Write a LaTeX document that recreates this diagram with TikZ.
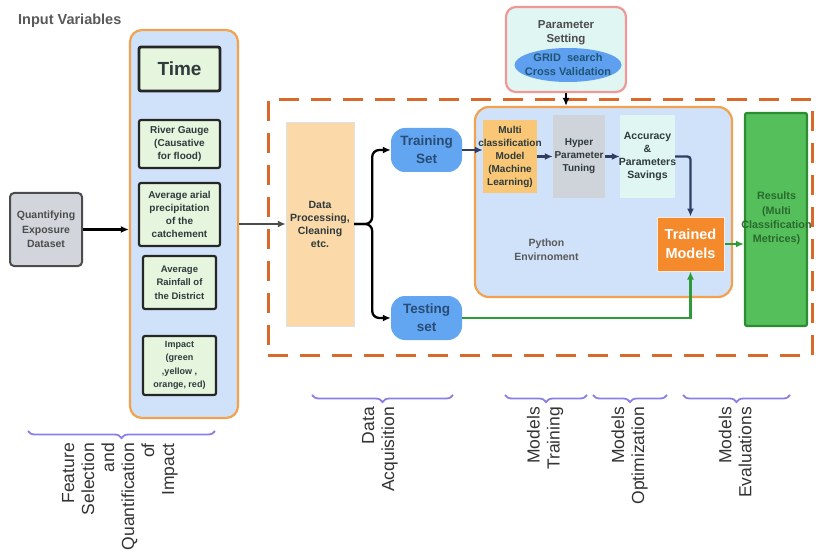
\documentclass[tikz,border=0pt]{standalone}
\usepackage{fontspec}
\setmainfont{Liberation Sans}
\usetikzlibrary{shapes.geometric, arrows.meta, positioning, decorations.pathreplacing}

\definecolor{colfill}{HTML}{D0E2FA}
\definecolor{colline}{HTML}{F2A24E}
\definecolor{varfill}{HTML}{E6F5DD}
\definecolor{boxtext}{HTML}{2E3A3C}
\definecolor{framecol}{HTML}{D8692A}
\definecolor{procfill}{HTML}{FCD9A9}
\definecolor{setfill}{HTML}{62A5F1}
\definecolor{settext}{HTML}{294C77}
\definecolor{modelfill}{HTML}{F9C775}
\definecolor{tunefill}{HTML}{CFD3DA}
\definecolor{savefill}{HTML}{E0F6F3}
\definecolor{trainfill}{HTML}{F58A2C}
\definecolor{resfill}{HTML}{55BF5C}
\definecolor{resline}{HTML}{2B8C30}
\definecolor{restext}{HTML}{2A6A2D}
\definecolor{paramline}{HTML}{F09898}
\definecolor{gridfill}{HTML}{5E9FF0}
\definecolor{gridtext}{HTML}{1F5573}
\definecolor{flowline}{HTML}{2F3E62}
\definecolor{testline}{HTML}{2E9B38}
\definecolor{bracecol}{HTML}{8A7FE6}
\definecolor{datafill}{HTML}{D2D6DC}

\tikzset{
	boxfont/.style={font=\bfseries\fontsize{10}{13}\selectfont},
	varbox/.style={draw=black!85, line width=2.2pt, fill=varfill, rounded corners=2pt, align=center, text=boxtext, inner sep=0pt, boxfont},
	setbox/.style={fill=setfill, rounded corners=14pt, minimum width=71pt, minimum height=44pt, inner sep=0pt, align=center, text=settext, font=\bfseries\fontsize{13.5}{18}\selectfont},
	plainbox/.style={inner sep=0pt, minimum width=54pt, minimum height=73pt},
	boxtxt/.style={align=center, inner sep=0pt, text=boxtext, boxfont},
	flow/.style={line width=2.3pt, -{Latex[length=8pt,width=7pt]}},
	bracepath/.style={draw=bracecol, line width=1.8pt, decorate, decoration={brace, mirror, amplitude=7pt}},
	steplabel/.style={rotate=90, anchor=east, align=right, inner sep=0pt, text=black!80, font=\fontsize{17.5}{20}\selectfont}
}

\begin{document}
\begin{tikzpicture}[x=1pt, y=-1pt]
	\useasboundingbox (0,0) rectangle (816,556);

	\node[anchor=west, inner sep=0pt, text=black!65, font=\bfseries\fontsize{14.5}{17}\selectfont] (title) at (18,21) {Input Variables};

	\node[draw=framecol, line width=3pt, dash pattern=on 20pt off 12pt, minimum width=544pt, minimum height=255pt] (stage) at (540,227.5) {};

	\node[draw=colline, line width=2.2pt, fill=colfill, rounded corners=12pt, minimum width=108pt, minimum height=388pt] (inputs) at (184,224) {};
	\node[varbox, line width=2.8pt, minimum width=81pt, minimum height=44pt, font=\bfseries\fontsize{19}{22}\selectfont] (time) at (179.5,69) {Time};
	\node[varbox, minimum width=81pt, minimum height=48pt] (gauge) at (179.5,144) {River Gauge\\(Causative\\for flood)};
	\node[varbox, minimum width=81pt, minimum height=63pt] (precip) at (179.5,214.5) {Average arial\\precipitation\\of the\\catchement};
	\node[varbox, minimum width=73pt, minimum height=53pt, font=\bfseries\fontsize{9.5}{13.5}\selectfont] (rain) at (179.5,282.5) {Average\\Rainfall of\\the District};
	\node[varbox, minimum width=73pt, minimum height=59pt, font=\bfseries\fontsize{9}{13.3}\selectfont] (impact) at (179.5,365.5) {Impact\\(green\\,yellow ,\\orange, red)};

	\node[draw=black!70, line width=2pt, fill=datafill, rounded corners=4pt, minimum width=72pt, minimum height=73pt, inner sep=0pt, align=center, text=black!70, font=\bfseries\fontsize{10.5}{14.5}\selectfont] (dataset) at (46,229.5) {Quantifying\\Exposure\\Dataset};

	\node[draw=black!12, fill=procfill, minimum width=68pt, minimum height=204pt, inner sep=0pt, align=center, text=boxtext, font=\bfseries\fontsize{10.5}{13}\selectfont] (proc) at (320,224) {Data\\Processing,\\Cleaning\\etc.};

	\node[setbox] (train) at (426.5,150) {Training\\Set};
	\node[setbox] (test) at (426.5,318) {Testing\\set};

	\node[draw=colline, line width=2.2pt, fill=colfill, rounded corners=14pt, minimum width=257pt, minimum height=190pt] (env) at (603.5,202) {};
	\node[boxtxt, text=black!65, font=\bfseries\fontsize{10.5}{14}\selectfont] (envtext) at (546.5,250) {Python\\Envirnoment};

	\node[plainbox, fill=modelfill] (multi) at (510,156.5) {};
	\node[boxtxt] (multitext) at (multi) {Multi\\classification\\Model\\(Machine\\Learning)};
	\node[plainbox, fill=tunefill, minimum width=52pt, minimum height=83pt] (hyper) at (579,156.5) {};
	\node[boxtxt] (hypertext) at (hyper) {Hyper\\Parameter\\Tuning};
	\node[plainbox, fill=savefill, minimum width=55pt, minimum height=83pt] (saving) at (647.5,156.5) {};
	\node[boxtxt, font=\bfseries\fontsize{10.5}{13}\selectfont] (savingtext) at (saving) {Accuracy\\\&\\Parameters\\Savings};

	\node[draw=white!85!trainfill, line width=1pt, fill=trainfill, minimum width=67pt, minimum height=54pt, inner sep=0pt, align=center, text=white, font=\bfseries\fontsize{14.5}{19.5}\selectfont] (trained) at (690.5,244) {Trained\\Models};

	\node[draw=resline, line width=2.2pt, fill=resfill, rounded corners=2pt, minimum width=62pt, minimum height=213pt, inner sep=0pt] (results) at (776,219.5) {};
	\node[boxtxt, text=restext, font=\bfseries\fontsize{10.8}{14.3}\selectfont] (resultstext) at (776.5,218.5) {Results\\(Multi\\Classification\\Metrices)};

	\node[draw=paramline, line width=2.2pt, fill=savefill, rounded corners=10pt, minimum width=120pt, minimum height=85pt, inner sep=0pt] (param) at (566,49.5) {};
	\node[boxtxt, text=black!70, font=\bfseries\fontsize{11.5}{14}\selectfont] (paramtext) at (566,33) {Parameter\\Setting};
	\node[ellipse, fill=gridfill, minimum width=107pt, minimum height=34pt, inner sep=0pt] (grid) at (568,65) {};
	\node[boxtxt, text=gridtext, font=\bfseries\fontsize{11}{14}\selectfont] (gridtext) at (grid) {GRID~~search\\Cross Validation};

	\draw[flow, draw=black] (dataset.east) -- (dataset.east -| inputs.west);
	\draw[flow, draw=black!70] (inputs.east |- proc.west) -- (proc.west);
	\draw[flow, rounded corners=7pt] (proc.east) -- ++(18,0) |- (train.west);
	\draw[flow, rounded corners=7pt] (proc.east) -- ++(18,0) |- (test.west);
	\draw[flow, draw=black] (param.south) -- (param.south |- env.north);
	\draw[flow, draw=flowline] (train.east) -- (train.east -| multi.west);
	\draw[flow, draw=flowline] (multi.east) -- (hyper.west);
	\draw[flow, draw=flowline] (hyper.east) -- (saving.west);
	\draw[flow, draw=flowline, rounded corners=3pt] (saving.east) -| (trained.north);
	\draw[flow, draw=testline] (test.east) -| (trained.south);
	\draw[flow, draw=testline] (trained.east) -- (trained.east -| results.west);

	\draw[bracepath] (28,431) -- (215,431);
	\draw[bracepath] (312,395) -- (453,395);
	\draw[bracepath] (505,395) -- (587,395);
	\draw[bracepath] (593,395) -- (667,395);
	\draw[bracepath] (683,395) -- (790,395);

	\node[steplabel] (feature) at (120,443) {Feature\\Selection\\and\\Quantification\\of\\Impact};
	\node[steplabel] (acquire) at (380,407) {Data\\Acquisition};
	\node[steplabel] (training) at (545,407) {Models\\Training};
	\node[steplabel] (optimize) at (629.5,407) {Models\\Optimization};
	\node[steplabel] (evaluate) at (735,407) {Models\\Evaluations};
\end{tikzpicture}
\end{document}
